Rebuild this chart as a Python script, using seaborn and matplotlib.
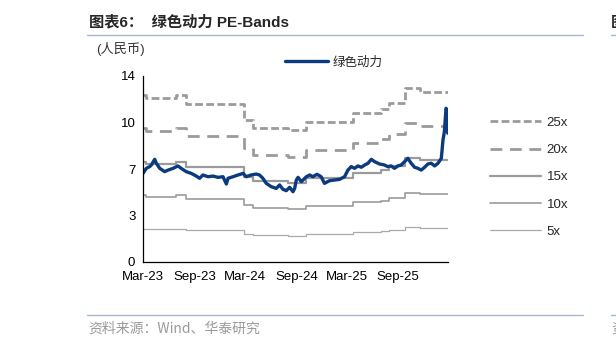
import matplotlib
matplotlib.use("Agg")
import matplotlib.pyplot as plt
from matplotlib.lines import Line2D
import seaborn as sns
import pandas as pd

# ---------------- data ----------------
price_dates = ["2023-03-01","2023-03-13","2023-03-25","2023-03-31","2023-04-12","2023-04-18","2023-04-30",
               "2023-05-18","2023-05-30","2023-06-17","2023-07-04","2023-07-16","2023-08-03","2023-08-21",
               "2023-09-08","2023-09-20","2023-10-02","2023-10-20","2023-11-07","2023-11-25","2023-12-13",
               "2023-12-25","2023-12-31","2024-01-18","2024-02-05","2024-02-23","2024-03-05","2024-03-23",
               "2024-04-10","2024-04-22","2024-05-04","2024-05-16","2024-06-03","2024-06-21","2024-07-03",
               "2024-07-15","2024-07-27","2024-08-08","2024-08-20","2024-08-26","2024-09-01","2024-09-07",
               "2024-09-19","2024-10-07","2024-10-19","2024-10-30","2024-11-14","2024-11-29","2024-12-11",
               "2024-12-29","2025-01-16","2025-02-03","2025-02-21","2025-03-05","2025-03-17","2025-03-29",
               "2025-04-10","2025-04-22","2025-05-04","2025-05-16","2025-05-28","2025-06-09","2025-06-26",
               "2025-07-14","2025-07-26","2025-08-07","2025-08-19","2025-08-31","2025-09-12","2025-09-24",
               "2025-10-06","2025-10-18","2025-10-30","2025-11-11","2025-11-23","2025-12-05","2025-12-17",
               "2025-12-29","2026-01-10","2026-01-22","2026-02-03","2026-02-09","2026-02-14","2026-02-20",
               "2026-02-24","2026-02-26"]
price_vals = [6.67,7.05,7.18,7.30,7.73,7.43,7.05,
              6.80,6.92,7.05,7.23,7.05,6.80,6.67,
              6.47,6.30,6.55,6.42,6.47,6.37,6.42,
              5.87,6.30,6.42,6.55,6.67,6.42,6.55,
              6.62,6.55,6.30,5.92,5.67,5.54,5.80,
              5.47,5.37,5.62,5.29,5.54,6.17,6.37,
              6.05,6.42,6.55,6.42,6.60,6.42,5.92,
              6.12,6.17,6.22,6.42,6.92,7.18,7.05,
              7.23,7.13,7.30,7.43,7.73,7.55,7.38,
              7.30,7.18,7.23,7.05,7.23,7.30,7.55,
              7.80,7.43,7.13,7.05,6.92,7.13,7.38,
              7.43,7.23,7.43,7.80,9.18,9.81,11.57,
              11.40,9.70]

eps_dates = ["2023-03-01","2023-03-13","2023-06-28","2023-08-03","2024-02-28","2024-03-29","2024-08-02",
             "2024-10-07","2025-03-23","2025-06-30","2025-08-01","2025-09-24","2025-11-17","2026-02-26"]
eps_vals = [0.503,0.493,0.503,0.475,0.428,0.404,0.397,0.422,0.448,0.462,0.480,0.523,0.511,0.511]

pe_multiples = [25, 20, 15, 10, 5]
band_labels = ["25x", "20x", "15x", "10x", "5x"]
series_name = "绿色动力"

y_ticks = [0, 3.5, 7, 10.5, 14]
y_ticklabels = ["0", "3", "7", "10", "14"]
x_ticks = ["2023-03-01","2023-09-01","2024-03-01","2024-09-01","2025-03-01","2025-09-01"]
x_ticklabels = ["Mar-23","Sep-23","Mar-24","Sep-24","Mar-25","Sep-25"]

# ---------------- style ----------------
sns.set_style("white")
plt.rcParams["font.family"] = ["Liberation Sans", "Noto Sans CJK SC", "DejaVu Sans"]
plt.rcParams["lines.scale_dashes"] = False

price_df = pd.DataFrame({"date": pd.to_datetime(price_dates), "value": price_vals})
eps_df = pd.DataFrame({"date": pd.to_datetime(eps_dates), "eps": eps_vals})

fig = plt.figure(figsize=(6.16, 3.44), dpi=100)
ax = fig.add_axes([143/616, 1-262/344, (448-143)/616, (262-76)/344])

gray = "#9B9B9B"
styles = {
    25: dict(color=gray, lw=2.0, dashes=(5.6, 2.4)),
    20: dict(color=gray, lw=2.0, dashes=(8.5, 5.5)),
    15: dict(color=gray, lw=1.6, dashes=None),
    10: dict(color=gray, lw=1.2, dashes=None),
    5:  dict(color="#AAAAAA", lw=0.9, dashes=None),
}

band_handles = []
for m, lab in zip(pe_multiples, band_labels):
    st = styles[m]
    bdf = pd.DataFrame({"date": eps_df["date"], "value": eps_df["eps"] * m})
    sns.lineplot(data=bdf, x="date", y="value", ax=ax, color=st["color"], linewidth=st["lw"],
                 drawstyle="steps-post", estimator=None, legend=False)
    line = ax.lines[-1]
    if st["dashes"] is not None:
        line.set_dashes(st["dashes"])
    h = Line2D([], [], color=st["color"], linewidth=st["lw"])
    if st["dashes"] is not None:
        h.set_dashes(st["dashes"])
    band_handles.append(h)

sns.lineplot(data=price_df, x="date", y="value", ax=ax, color="#0B3B7E", linewidth=2.4,
             estimator=None, legend=False)

ax.set_ylim(0, 14)
ax.set_xlim(pd.Timestamp("2023-03-01"), pd.Timestamp("2026-02-27"))
ax.set_yticks(y_ticks)
ax.set_yticklabels(y_ticklabels)
ax.set_xticks(pd.to_datetime(x_ticks))
ax.set_xticklabels(x_ticklabels)
ax.set_xlabel("")
ax.set_ylabel("")
ax.tick_params(axis="both", labelsize=9.5, length=3.5, width=0.8, direction="out",
               colors="black", pad=2)
ax.tick_params(axis="x", pad=3)
for s in ["top", "right"]:
    ax.spines[s].set_visible(False)
for s in ["left", "bottom"]:
    ax.spines[s].set_color("black")
    ax.spines[s].set_linewidth(0.9)
ax.grid(False)

# legends
blue_handle = Line2D([], [], color="#0B3B7E", linewidth=2.4)
fig.legend([blue_handle], [series_name], loc="center left",
           bbox_to_anchor=(274/616, 1-62/344), frameon=False, handlelength=3.4,
           handletextpad=0.4, prop={"family": ["Noto Sans CJK SC"], "size": 9})

fig.legend(band_handles, band_labels, loc="upper left",
           bbox_to_anchor=(478/616, 1-105/344), frameon=False, handlelength=3.9,
           handletextpad=0.4, labelspacing=1.13, prop={"size": 9.5})

# title & annotations
fig.text(89/616, 1-22/344, "图表6：  绿色动力 PE-Bands", fontsize=11, fontweight="bold",
         va="center", ha="left")
fig.text(96/616, 1-49/344, "(人民币)", fontsize=9.5, va="center", ha="left",
         family=["Liberation Sans", "Noto Sans CJK SC"], color="#333333")
fig.text(88/616, 1-329/344, "资料来源：Wind、华泰研究", fontsize=10, va="center", ha="left",
         color="#9A9A9A", family=["Noto Sans CJK SC", "DejaVu Sans"])
fig.text(611/616, 1-22/344, "图", fontsize=11, fontweight="bold", va="center", ha="left",
         family=["Noto Sans CJK SC"])
fig.text(611/616, 1-329/344, "资", fontsize=10, va="center", ha="left", color="#9A9A9A",
         family=["Noto Sans CJK SC"])

rule_color = "#A7BACD"
for yy in (34.5, 315):
    fig.add_artist(Line2D([87/616, 583/616], [1-yy/344, 1-yy/344], color=rule_color, lw=1.0))
    fig.add_artist(Line2D([611/616, 1.0], [1-yy/344, 1-yy/344], color=rule_color, lw=1.0))

fig.savefig("out.png", dpi=100)
